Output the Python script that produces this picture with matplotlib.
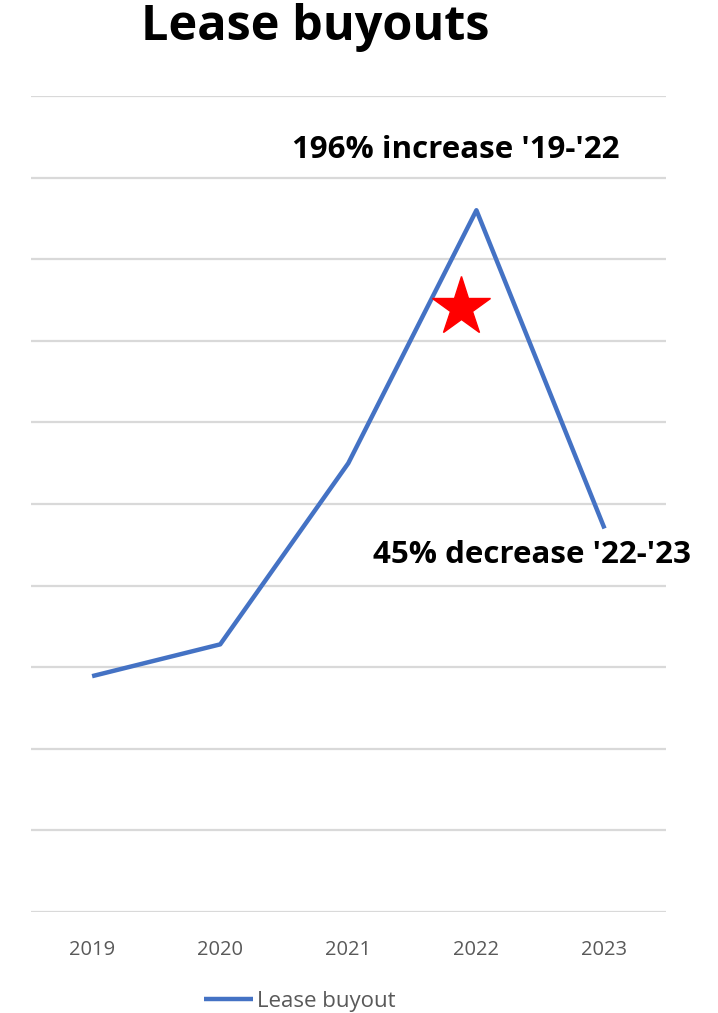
import matplotlib.pyplot as plt

years = ["2019", "2020", "2021", "2022", "2023"]
buyouts = [2.89, 3.28, 5.50, 8.60, 4.70]

plt.rcParams['font.family'] = ['Open Sans', 'DejaVu Sans']

fig = plt.figure(figsize=(7.18, 10.13), dpi=100)
ax = fig.add_axes([31 / 718, 1 - 912 / 1013, 635 / 718, 816 / 1013])

x = list(range(len(years)))
line, = ax.plot(x, buyouts, color='#4472C4', lw=3.2, solid_capstyle='butt',
                label='Lease buyout', zorder=3)

# red star next to the peak
ax.plot([2.88], [7.41], marker='*', color='red', markersize=44, ls='none', zorder=4)

ax.set_xlim(-0.477, 4.48)
ax.set_ylim(0, 10)
ax.set_yticks(range(0, 11))
ax.set_yticklabels([])
ax.set_xticks(x)
ax.set_xticklabels(years, color='#595959', fontsize=14.5)
ax.tick_params(axis='both', length=0, pad=20)
ax.grid(axis='y', color='#D9D9D9', lw=1.6)
ax.set_axisbelow(True)
for s in ax.spines.values():
    s.set_visible(False)

fig.text(456 / 718, 1 - 150 / 1013, "196% increase '19-'22", ha='center', va='center',
         fontsize=22.5, fontweight='bold')
fig.text(532 / 718, 1 - 555 / 1013, "45% decrease '22-'23", ha='center', va='center',
         fontsize=22.5, fontweight='bold')
fig.text(315 / 718, 1 - 28 / 1013, "Lease buyouts", ha='center', va='center',
         fontsize=35, fontweight='bold')

fig.legend(handles=[line], loc='center', bbox_to_anchor=(300 / 718, 1 - 1001 / 1013),
           frameon=False, fontsize=16, labelcolor='#595959', handlelength=2.2,
           handletextpad=0.2)

fig.savefig('out.png', dpi=100)
